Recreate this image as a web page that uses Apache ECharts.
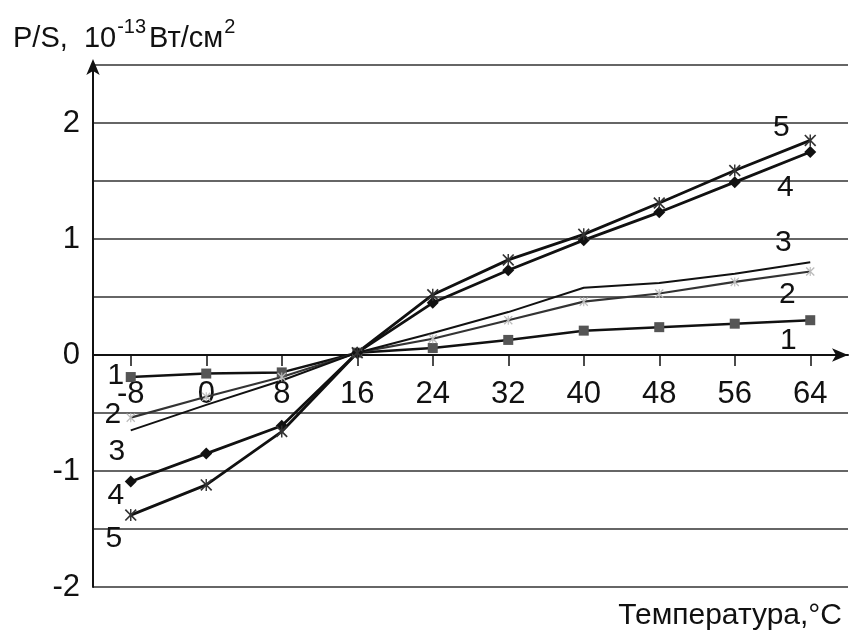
<!DOCTYPE html>
<html><head><meta charset="utf-8">
<script src="https://cdn.jsdelivr.net/npm/echarts@6/dist/echarts.min.js"></script>
<style>html,body{margin:0;padding:0;background:#fff}#c{width:849px;height:639px}</style>
</head><body><div id="c"></div>
<script>
const temps = [-8, 0, 8, 16, 24, 32, 40, 48, 56, 64];
const xTicks = [-8, 0, 8, 16, 24, 32, 40, 48, 56, 64];
const yTicks = [-2, -1, 0, 1, 2];
const s1 = [-0.19, -0.16, -0.15, 0.02, 0.06, 0.13, 0.21, 0.24, 0.27, 0.30];
const s2 = [-0.54, -0.36, -0.19, 0.02, 0.14, 0.30, 0.46, 0.53, 0.63, 0.72];
const s3 = [-0.65, -0.43, -0.22, 0.02, 0.19, 0.37, 0.58, 0.62, 0.70, 0.80];
const s4 = [-1.09, -0.85, -0.61, 0.02, 0.45, 0.73, 0.99, 1.23, 1.49, 1.75];
const s5 = [-1.38, -1.12, -0.66, 0.02, 0.52, 0.82, 1.04, 1.31, 1.59, 1.85];
const names = ['1', '2', '3', '4', '5'];

const FONT = 'Liberation Sans, Arial, sans-serif';
const FS = 31;
const FS_LBL = 30;
const Y_MIN = -2, Y_MAX = 2.5;
const GRID = { left: 93, right: 1, top: 65, bottom: 52 };
const H = 639;
const gridH = H - GRID.top - GRID.bottom;
const zeroOffset = -(0 - Y_MIN) / (Y_MAX - Y_MIN) * gridH;

const leftOff = [[-15, -1], [-18, -3], [-14, 21], [-15, 14], [-17, 24]];
const rightOff = [[-22, 21], [-23, 23], [-27, -19], [-25, 36], [-29, -13]];
const starPath = 'path://M0,1 L1,0 L5,4 L9,0 L10,1 L6,5 L10,9 L9,10 L5,6 L1,10 L0,9 L4,5 Z M4.4,0 L5.6,0 L5.6,10 L4.4,10 Z';

function build(vals, idx) {
  return vals.map((v, i) => {
    const d = { value: [temps[i], v] };
    if (i === 0 || i === vals.length - 1) {
      const off = i === 0 ? leftOff[idx] : rightOff[idx];
      d.label = { show: true, position: 'inside', formatter: names[idx], offset: off,
        fontSize: FS_LBL, fontFamily: FONT, color: '#111' };
    }
    return d;
  });
}

const series = [
  { data: build(s1, 0), symbol: 'rect', symbolSize: 10, itemStyle: { color: '#555' }, lineStyle: { color: '#111', width: 2.5 } },
  { data: build(s2, 1), symbol: starPath, symbolSize: 9, itemStyle: { color: '#bbb' }, lineStyle: { color: '#333', width: 2.2 } },
  { data: build(s3, 2), symbol: 'circle', symbolSize: 0, itemStyle: { color: '#111' }, lineStyle: { color: '#111', width: 2 } },
  { data: build(s4, 3), symbol: 'diamond', symbolSize: 12, itemStyle: { color: '#111' }, lineStyle: { color: '#111', width: 2.8 } },
  { data: build(s5, 4), symbol: starPath, symbolSize: 12, itemStyle: { color: '#333' }, lineStyle: { color: '#111', width: 2.8 } }
].map(s => Object.assign({ type: 'line', showSymbol: true, animation: false, z: 3 }, s));

const chart = echarts.init(document.getElementById('c'), null, { renderer: 'canvas' });
chart.setOption({
  backgroundColor: '#fff',
  animation: false,
  title: [
    { text: '{m|P/S,  10}{sup|-13}{m|Вт/см}{sup|2}', left: 8, top: 12,
      textStyle: { fontSize: 29, fontWeight: 'normal', fontFamily: FONT, color: '#111',
        rich: {
          m: { fontSize: 29, fontFamily: FONT, color: '#111', lineHeight: 36, verticalAlign: 'bottom' },
          sup: { fontSize: 20, fontFamily: FONT, color: '#111', lineHeight: 36, verticalAlign: 'top', padding: [0, 3, 0, 1] }
        } } },
    { text: 'Температура,°C', right: 2, bottom: 3,
      textStyle: { fontSize: 30, fontWeight: 'normal', fontFamily: FONT, color: '#111' } }
  ],
  grid: Object.assign({ containLabel: false }, GRID),
  xAxis: {
    type: 'value', min: -12, max: 68, position: 'bottom', offset: zeroOffset,
    axisLine: { onZero: false, symbol: ['none', 'arrow'], symbolSize: [10, 16], lineStyle: { color: '#111', width: 2 } },
    axisTick: { show: true, length: 11, customValues: xTicks, lineStyle: { color: '#111', width: 1.5 } },
    axisLabel: { customValues: xTicks, margin: 24, fontSize: FS, fontFamily: FONT, color: '#111' },
    splitLine: { show: false }
  },
  yAxis: {
    type: 'value', min: Y_MIN, max: Y_MAX, interval: 0.5,
    axisLine: { show: true, onZero: false, symbol: ['none', 'arrow'], symbolSize: [10, 16], symbolOffset: [0, 6], lineStyle: { color: '#111', width: 2 } },
    axisTick: { show: false },
    axisLabel: { margin: 13, fontSize: FS, fontFamily: FONT, color: '#111',
      formatter: v => (yTicks.indexOf(v) >= 0 ? String(v) : '') },
    splitLine: { show: true, lineStyle: { color: '#333', width: 1.6 } }
  },
  series: series
});
</script></body></html>
